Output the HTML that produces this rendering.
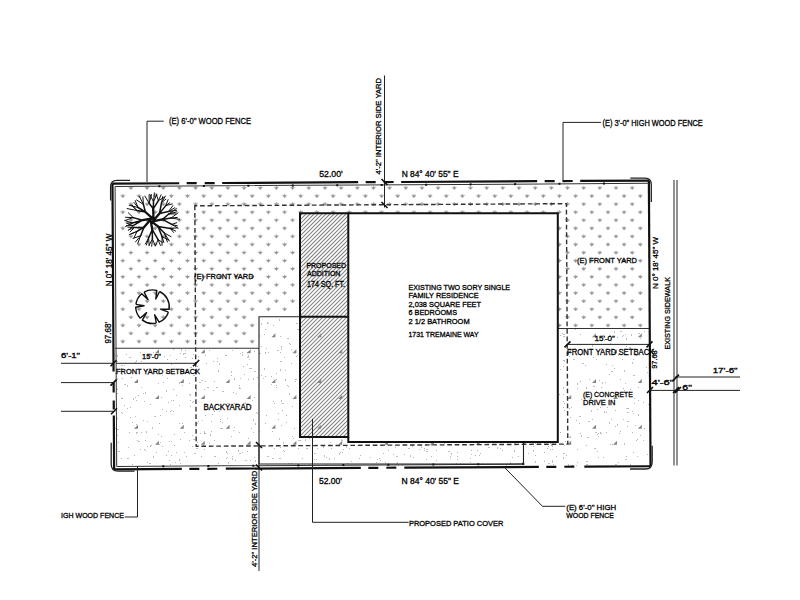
<!DOCTYPE html><html><head><meta charset="utf-8"><style>
html,body{margin:0;padding:0;background:#fff;width:800px;height:600px;overflow:hidden}
svg{display:block}
text{font-family:"Liberation Sans",sans-serif;fill:#000;stroke:#000;stroke-width:0.3px}
</style></head><body>
<svg width="800" height="600" viewBox="0 0 800 600">
<defs><clipPath id="ca"><rect x="300" y="213" width="48" height="224"/></clipPath></defs>
<rect width="800" height="600" fill="#fff"/>
<path d="M120.6 195.3h4.4l-2.2 2.6zM128.7 187.2h4.4l-2.2 2.6zM136.8 195.3h4.4l-2.2 2.6zM144.9 187.2h4.4l-2.2 2.6zM153.0 195.3h4.4l-2.2 2.6zM161.1 187.2h4.4l-2.2 2.6zM169.2 195.3h4.4l-2.2 2.6zM177.2 187.2h4.4l-2.2 2.6zM185.3 195.3h4.4l-2.2 2.6zM193.4 187.2h4.4l-2.2 2.6zM201.5 195.3h4.4l-2.2 2.6zM209.6 187.2h4.4l-2.2 2.6zM217.7 195.3h4.4l-2.2 2.6zM225.7 187.2h4.4l-2.2 2.6zM233.8 195.3h4.4l-2.2 2.6zM241.9 187.2h4.4l-2.2 2.6zM250.0 195.3h4.4l-2.2 2.6zM258.1 187.2h4.4l-2.2 2.6zM266.2 195.3h4.4l-2.2 2.6zM274.2 187.2h4.4l-2.2 2.6zM282.4 195.3h4.4l-2.2 2.6zM290.4 187.2h4.4l-2.2 2.6zM298.5 195.3h4.4l-2.2 2.6zM306.6 187.2h4.4l-2.2 2.6zM314.7 195.3h4.4l-2.2 2.6zM322.8 187.2h4.4l-2.2 2.6zM330.9 195.3h4.4l-2.2 2.6zM338.9 187.2h4.4l-2.2 2.6zM347.0 195.3h4.4l-2.2 2.6zM355.1 187.2h4.4l-2.2 2.6zM363.2 195.3h4.4l-2.2 2.6zM371.3 187.2h4.4l-2.2 2.6zM379.4 195.3h4.4l-2.2 2.6zM387.4 187.2h4.4l-2.2 2.6zM395.5 195.3h4.4l-2.2 2.6zM403.6 187.2h4.4l-2.2 2.6zM411.7 195.3h4.4l-2.2 2.6zM419.8 187.2h4.4l-2.2 2.6zM427.9 195.3h4.4l-2.2 2.6zM435.9 187.2h4.4l-2.2 2.6zM444.1 195.3h4.4l-2.2 2.6zM452.1 187.2h4.4l-2.2 2.6zM460.2 195.3h4.4l-2.2 2.6zM468.3 187.2h4.4l-2.2 2.6zM476.4 195.3h4.4l-2.2 2.6zM484.5 187.2h4.4l-2.2 2.6zM492.6 195.3h4.4l-2.2 2.6zM500.6 187.2h4.4l-2.2 2.6zM508.7 195.3h4.4l-2.2 2.6zM516.8 187.2h4.4l-2.2 2.6zM524.9 195.3h4.4l-2.2 2.6zM533.0 187.2h4.4l-2.2 2.6zM541.1 195.3h4.4l-2.2 2.6zM549.1 187.2h4.4l-2.2 2.6zM557.2 195.3h4.4l-2.2 2.6zM565.3 187.2h4.4l-2.2 2.6zM573.4 195.3h4.4l-2.2 2.6zM581.5 187.2h4.4l-2.2 2.6zM589.6 195.3h4.4l-2.2 2.6zM597.6 187.2h4.4l-2.2 2.6zM605.8 195.3h4.4l-2.2 2.6zM613.8 187.2h4.4l-2.2 2.6zM621.9 195.3h4.4l-2.2 2.6zM630.0 187.2h4.4l-2.2 2.6zM638.1 195.3h4.4l-2.2 2.6zM120.6 211.5h4.4l-2.2 2.6zM128.7 203.4h4.4l-2.2 2.6zM136.8 211.5h4.4l-2.2 2.6zM144.9 203.4h4.4l-2.2 2.6zM153.0 211.5h4.4l-2.2 2.6zM161.1 203.4h4.4l-2.2 2.6zM169.2 211.5h4.4l-2.2 2.6zM177.2 203.4h4.4l-2.2 2.6zM185.3 211.5h4.4l-2.2 2.6zM193.4 203.4h4.4l-2.2 2.6zM201.5 211.5h4.4l-2.2 2.6zM209.6 203.4h4.4l-2.2 2.6zM217.7 211.5h4.4l-2.2 2.6zM225.7 203.4h4.4l-2.2 2.6zM233.8 211.5h4.4l-2.2 2.6zM241.9 203.4h4.4l-2.2 2.6zM250.0 211.5h4.4l-2.2 2.6zM258.1 203.4h4.4l-2.2 2.6zM266.2 211.5h4.4l-2.2 2.6zM274.2 203.4h4.4l-2.2 2.6zM282.4 211.5h4.4l-2.2 2.6zM290.4 203.4h4.4l-2.2 2.6zM298.5 211.5h4.4l-2.2 2.6zM306.6 203.4h4.4l-2.2 2.6zM314.7 211.5h4.4l-2.2 2.6zM322.8 203.4h4.4l-2.2 2.6zM330.9 211.5h4.4l-2.2 2.6zM338.9 203.4h4.4l-2.2 2.6zM347.0 211.5h4.4l-2.2 2.6zM355.1 203.4h4.4l-2.2 2.6zM363.2 211.5h4.4l-2.2 2.6zM371.3 203.4h4.4l-2.2 2.6zM379.4 211.5h4.4l-2.2 2.6zM387.4 203.4h4.4l-2.2 2.6zM395.5 211.5h4.4l-2.2 2.6zM403.6 203.4h4.4l-2.2 2.6zM411.7 211.5h4.4l-2.2 2.6zM419.8 203.4h4.4l-2.2 2.6zM427.9 211.5h4.4l-2.2 2.6zM435.9 203.4h4.4l-2.2 2.6zM444.1 211.5h4.4l-2.2 2.6zM452.1 203.4h4.4l-2.2 2.6zM460.2 211.5h4.4l-2.2 2.6zM468.3 203.4h4.4l-2.2 2.6zM476.4 211.5h4.4l-2.2 2.6zM484.5 203.4h4.4l-2.2 2.6zM492.6 211.5h4.4l-2.2 2.6zM500.6 203.4h4.4l-2.2 2.6zM508.7 211.5h4.4l-2.2 2.6zM516.8 203.4h4.4l-2.2 2.6zM524.9 211.5h4.4l-2.2 2.6zM533.0 203.4h4.4l-2.2 2.6zM541.1 211.5h4.4l-2.2 2.6zM549.1 203.4h4.4l-2.2 2.6zM557.2 211.5h4.4l-2.2 2.6zM565.3 203.4h4.4l-2.2 2.6zM573.4 211.5h4.4l-2.2 2.6zM581.5 203.4h4.4l-2.2 2.6zM589.6 211.5h4.4l-2.2 2.6zM597.6 203.4h4.4l-2.2 2.6zM605.8 211.5h4.4l-2.2 2.6zM613.8 203.4h4.4l-2.2 2.6zM621.9 211.5h4.4l-2.2 2.6zM630.0 203.4h4.4l-2.2 2.6zM638.1 211.5h4.4l-2.2 2.6zM120.6 227.6h4.4l-2.2 2.6zM128.7 219.5h4.4l-2.2 2.6zM136.8 227.6h4.4l-2.2 2.6zM144.9 219.5h4.4l-2.2 2.6zM153.0 227.6h4.4l-2.2 2.6zM161.1 219.5h4.4l-2.2 2.6zM169.2 227.6h4.4l-2.2 2.6zM177.2 219.5h4.4l-2.2 2.6zM185.3 227.6h4.4l-2.2 2.6zM193.4 219.5h4.4l-2.2 2.6zM201.5 227.6h4.4l-2.2 2.6zM209.6 219.5h4.4l-2.2 2.6zM217.7 227.6h4.4l-2.2 2.6zM225.7 219.5h4.4l-2.2 2.6zM233.8 227.6h4.4l-2.2 2.6zM241.9 219.5h4.4l-2.2 2.6zM250.0 227.6h4.4l-2.2 2.6zM258.1 219.5h4.4l-2.2 2.6zM266.2 227.6h4.4l-2.2 2.6zM274.2 219.5h4.4l-2.2 2.6zM282.4 227.6h4.4l-2.2 2.6zM290.4 219.5h4.4l-2.2 2.6zM557.2 227.6h4.4l-2.2 2.6zM565.3 219.5h4.4l-2.2 2.6zM573.4 227.6h4.4l-2.2 2.6zM581.5 219.5h4.4l-2.2 2.6zM589.6 227.6h4.4l-2.2 2.6zM597.6 219.5h4.4l-2.2 2.6zM605.8 227.6h4.4l-2.2 2.6zM613.8 219.5h4.4l-2.2 2.6zM621.9 227.6h4.4l-2.2 2.6zM630.0 219.5h4.4l-2.2 2.6zM638.1 227.6h4.4l-2.2 2.6zM120.6 243.8h4.4l-2.2 2.6zM128.7 235.7h4.4l-2.2 2.6zM136.8 243.8h4.4l-2.2 2.6zM144.9 235.7h4.4l-2.2 2.6zM153.0 243.8h4.4l-2.2 2.6zM161.1 235.7h4.4l-2.2 2.6zM169.2 243.8h4.4l-2.2 2.6zM177.2 235.7h4.4l-2.2 2.6zM185.3 243.8h4.4l-2.2 2.6zM193.4 235.7h4.4l-2.2 2.6zM201.5 243.8h4.4l-2.2 2.6zM209.6 235.7h4.4l-2.2 2.6zM217.7 243.8h4.4l-2.2 2.6zM225.7 235.7h4.4l-2.2 2.6zM233.8 243.8h4.4l-2.2 2.6zM241.9 235.7h4.4l-2.2 2.6zM250.0 243.8h4.4l-2.2 2.6zM258.1 235.7h4.4l-2.2 2.6zM266.2 243.8h4.4l-2.2 2.6zM274.2 235.7h4.4l-2.2 2.6zM282.4 243.8h4.4l-2.2 2.6zM290.4 235.7h4.4l-2.2 2.6zM557.2 243.8h4.4l-2.2 2.6zM565.3 235.7h4.4l-2.2 2.6zM573.4 243.8h4.4l-2.2 2.6zM581.5 235.7h4.4l-2.2 2.6zM589.6 243.8h4.4l-2.2 2.6zM597.6 235.7h4.4l-2.2 2.6zM605.8 243.8h4.4l-2.2 2.6zM613.8 235.7h4.4l-2.2 2.6zM621.9 243.8h4.4l-2.2 2.6zM630.0 235.7h4.4l-2.2 2.6zM638.1 243.8h4.4l-2.2 2.6zM120.6 260.0h4.4l-2.2 2.6zM128.7 251.9h4.4l-2.2 2.6zM136.8 260.0h4.4l-2.2 2.6zM144.9 251.9h4.4l-2.2 2.6zM153.0 260.0h4.4l-2.2 2.6zM161.1 251.9h4.4l-2.2 2.6zM169.2 260.0h4.4l-2.2 2.6zM177.2 251.9h4.4l-2.2 2.6zM185.3 260.0h4.4l-2.2 2.6zM193.4 251.9h4.4l-2.2 2.6zM201.5 260.0h4.4l-2.2 2.6zM209.6 251.9h4.4l-2.2 2.6zM217.7 260.0h4.4l-2.2 2.6zM225.7 251.9h4.4l-2.2 2.6zM233.8 260.0h4.4l-2.2 2.6zM241.9 251.9h4.4l-2.2 2.6zM250.0 260.0h4.4l-2.2 2.6zM258.1 251.9h4.4l-2.2 2.6zM266.2 260.0h4.4l-2.2 2.6zM274.2 251.9h4.4l-2.2 2.6zM282.4 260.0h4.4l-2.2 2.6zM290.4 251.9h4.4l-2.2 2.6zM557.2 260.0h4.4l-2.2 2.6zM565.3 251.9h4.4l-2.2 2.6zM573.4 260.0h4.4l-2.2 2.6zM581.5 251.9h4.4l-2.2 2.6zM589.6 260.0h4.4l-2.2 2.6zM597.6 251.9h4.4l-2.2 2.6zM605.8 260.0h4.4l-2.2 2.6zM613.8 251.9h4.4l-2.2 2.6zM621.9 260.0h4.4l-2.2 2.6zM630.0 251.9h4.4l-2.2 2.6zM638.1 260.0h4.4l-2.2 2.6zM120.6 276.1h4.4l-2.2 2.6zM128.7 268.1h4.4l-2.2 2.6zM136.8 276.1h4.4l-2.2 2.6zM144.9 268.1h4.4l-2.2 2.6zM153.0 276.1h4.4l-2.2 2.6zM161.1 268.1h4.4l-2.2 2.6zM169.2 276.1h4.4l-2.2 2.6zM177.2 268.1h4.4l-2.2 2.6zM185.3 276.1h4.4l-2.2 2.6zM193.4 268.1h4.4l-2.2 2.6zM201.5 276.1h4.4l-2.2 2.6zM209.6 268.1h4.4l-2.2 2.6zM217.7 276.1h4.4l-2.2 2.6zM225.7 268.1h4.4l-2.2 2.6zM233.8 276.1h4.4l-2.2 2.6zM241.9 268.1h4.4l-2.2 2.6zM250.0 276.1h4.4l-2.2 2.6zM258.1 268.1h4.4l-2.2 2.6zM266.2 276.1h4.4l-2.2 2.6zM274.2 268.1h4.4l-2.2 2.6zM282.4 276.1h4.4l-2.2 2.6zM290.4 268.1h4.4l-2.2 2.6zM557.2 276.1h4.4l-2.2 2.6zM565.3 268.1h4.4l-2.2 2.6zM573.4 276.1h4.4l-2.2 2.6zM581.5 268.1h4.4l-2.2 2.6zM589.6 276.1h4.4l-2.2 2.6zM597.6 268.1h4.4l-2.2 2.6zM605.8 276.1h4.4l-2.2 2.6zM613.8 268.1h4.4l-2.2 2.6zM621.9 276.1h4.4l-2.2 2.6zM630.0 268.1h4.4l-2.2 2.6zM638.1 276.1h4.4l-2.2 2.6zM120.6 292.3h4.4l-2.2 2.6zM128.7 284.2h4.4l-2.2 2.6zM136.8 292.3h4.4l-2.2 2.6zM144.9 284.2h4.4l-2.2 2.6zM153.0 292.3h4.4l-2.2 2.6zM161.1 284.2h4.4l-2.2 2.6zM169.2 292.3h4.4l-2.2 2.6zM177.2 284.2h4.4l-2.2 2.6zM185.3 292.3h4.4l-2.2 2.6zM193.4 284.2h4.4l-2.2 2.6zM201.5 292.3h4.4l-2.2 2.6zM209.6 284.2h4.4l-2.2 2.6zM217.7 292.3h4.4l-2.2 2.6zM225.7 284.2h4.4l-2.2 2.6zM233.8 292.3h4.4l-2.2 2.6zM241.9 284.2h4.4l-2.2 2.6zM250.0 292.3h4.4l-2.2 2.6zM258.1 284.2h4.4l-2.2 2.6zM266.2 292.3h4.4l-2.2 2.6zM274.2 284.2h4.4l-2.2 2.6zM282.4 292.3h4.4l-2.2 2.6zM290.4 284.2h4.4l-2.2 2.6zM557.2 292.3h4.4l-2.2 2.6zM565.3 284.2h4.4l-2.2 2.6zM573.4 292.3h4.4l-2.2 2.6zM581.5 284.2h4.4l-2.2 2.6zM589.6 292.3h4.4l-2.2 2.6zM597.6 284.2h4.4l-2.2 2.6zM605.8 292.3h4.4l-2.2 2.6zM613.8 284.2h4.4l-2.2 2.6zM621.9 292.3h4.4l-2.2 2.6zM630.0 284.2h4.4l-2.2 2.6zM638.1 292.3h4.4l-2.2 2.6zM120.6 308.5h4.4l-2.2 2.6zM128.7 300.4h4.4l-2.2 2.6zM136.8 308.5h4.4l-2.2 2.6zM144.9 300.4h4.4l-2.2 2.6zM153.0 308.5h4.4l-2.2 2.6zM161.1 300.4h4.4l-2.2 2.6zM169.2 308.5h4.4l-2.2 2.6zM177.2 300.4h4.4l-2.2 2.6zM185.3 308.5h4.4l-2.2 2.6zM193.4 300.4h4.4l-2.2 2.6zM201.5 308.5h4.4l-2.2 2.6zM209.6 300.4h4.4l-2.2 2.6zM217.7 308.5h4.4l-2.2 2.6zM225.7 300.4h4.4l-2.2 2.6zM233.8 308.5h4.4l-2.2 2.6zM241.9 300.4h4.4l-2.2 2.6zM250.0 308.5h4.4l-2.2 2.6zM258.1 300.4h4.4l-2.2 2.6zM266.2 308.5h4.4l-2.2 2.6zM274.2 300.4h4.4l-2.2 2.6zM282.4 308.5h4.4l-2.2 2.6zM290.4 300.4h4.4l-2.2 2.6zM557.2 308.5h4.4l-2.2 2.6zM565.3 300.4h4.4l-2.2 2.6zM573.4 308.5h4.4l-2.2 2.6zM581.5 300.4h4.4l-2.2 2.6zM589.6 308.5h4.4l-2.2 2.6zM597.6 300.4h4.4l-2.2 2.6zM605.8 308.5h4.4l-2.2 2.6zM613.8 300.4h4.4l-2.2 2.6zM621.9 308.5h4.4l-2.2 2.6zM630.0 300.4h4.4l-2.2 2.6zM638.1 308.5h4.4l-2.2 2.6zM120.6 324.7h4.4l-2.2 2.6zM128.7 316.6h4.4l-2.2 2.6zM136.8 324.7h4.4l-2.2 2.6zM144.9 316.6h4.4l-2.2 2.6zM153.0 324.7h4.4l-2.2 2.6zM161.1 316.6h4.4l-2.2 2.6zM169.2 324.7h4.4l-2.2 2.6zM177.2 316.6h4.4l-2.2 2.6zM185.3 324.7h4.4l-2.2 2.6zM193.4 316.6h4.4l-2.2 2.6zM201.5 324.7h4.4l-2.2 2.6zM209.6 316.6h4.4l-2.2 2.6zM217.7 324.7h4.4l-2.2 2.6zM225.7 316.6h4.4l-2.2 2.6zM233.8 324.7h4.4l-2.2 2.6zM241.9 316.6h4.4l-2.2 2.6zM250.0 324.7h4.4l-2.2 2.6zM557.2 324.7h4.4l-2.2 2.6zM565.3 316.6h4.4l-2.2 2.6zM573.4 324.7h4.4l-2.2 2.6zM581.5 316.6h4.4l-2.2 2.6zM589.6 324.7h4.4l-2.2 2.6zM597.6 316.6h4.4l-2.2 2.6zM605.8 324.7h4.4l-2.2 2.6zM613.8 316.6h4.4l-2.2 2.6zM621.9 324.7h4.4l-2.2 2.6zM630.0 316.6h4.4l-2.2 2.6zM638.1 324.7h4.4l-2.2 2.6zM120.6 340.8h4.4l-2.2 2.6zM128.7 332.7h4.4l-2.2 2.6zM136.8 340.8h4.4l-2.2 2.6zM144.9 332.7h4.4l-2.2 2.6zM153.0 340.8h4.4l-2.2 2.6zM161.1 332.7h4.4l-2.2 2.6zM169.2 340.8h4.4l-2.2 2.6zM177.2 332.7h4.4l-2.2 2.6zM185.3 340.8h4.4l-2.2 2.6zM193.4 332.7h4.4l-2.2 2.6zM201.5 340.8h4.4l-2.2 2.6zM209.6 332.7h4.4l-2.2 2.6zM217.7 340.8h4.4l-2.2 2.6zM225.7 332.7h4.4l-2.2 2.6zM233.8 340.8h4.4l-2.2 2.6zM241.9 332.7h4.4l-2.2 2.6zM250.0 340.8h4.4l-2.2 2.6z" fill="#8c8c8c" stroke="#b0b0b0" stroke-width="0.5"/>
<path d="M122.8 193.9v2.4M130.9 185.8v2.4M139.0 193.9v2.4M147.1 185.8v2.4M155.2 193.9v2.4M163.3 185.8v2.4M171.4 193.9v2.4M179.4 185.8v2.4M187.5 193.9v2.4M195.6 185.8v2.4M203.7 193.9v2.4M211.8 185.8v2.4M219.9 193.9v2.4M227.9 185.8v2.4M236.0 193.9v2.4M244.1 185.8v2.4M252.2 193.9v2.4M260.3 185.8v2.4M268.4 193.9v2.4M276.4 185.8v2.4M284.6 193.9v2.4M292.6 185.8v2.4M300.7 193.9v2.4M308.8 185.8v2.4M316.9 193.9v2.4M325.0 185.8v2.4M333.1 193.9v2.4M341.1 185.8v2.4M349.2 193.9v2.4M357.3 185.8v2.4M365.4 193.9v2.4M373.5 185.8v2.4M381.6 193.9v2.4M389.6 185.8v2.4M397.7 193.9v2.4M405.8 185.8v2.4M413.9 193.9v2.4M422.0 185.8v2.4M430.1 193.9v2.4M438.1 185.8v2.4M446.2 193.9v2.4M454.3 185.8v2.4M462.4 193.9v2.4M470.5 185.8v2.4M478.6 193.9v2.4M486.7 185.8v2.4M494.8 193.9v2.4M502.8 185.8v2.4M510.9 193.9v2.4M519.0 185.8v2.4M527.1 193.9v2.4M535.2 185.8v2.4M543.3 193.9v2.4M551.3 185.8v2.4M559.4 193.9v2.4M567.5 185.8v2.4M575.6 193.9v2.4M583.7 185.8v2.4M591.8 193.9v2.4M599.9 185.8v2.4M608.0 193.9v2.4M616.0 185.8v2.4M624.1 193.9v2.4M632.2 185.8v2.4M640.3 193.9v2.4M122.8 210.1v2.4M130.9 202.0v2.4M139.0 210.1v2.4M147.1 202.0v2.4M155.2 210.1v2.4M163.3 202.0v2.4M171.4 210.1v2.4M179.4 202.0v2.4M187.5 210.1v2.4M195.6 202.0v2.4M203.7 210.1v2.4M211.8 202.0v2.4M219.9 210.1v2.4M227.9 202.0v2.4M236.0 210.1v2.4M244.1 202.0v2.4M252.2 210.1v2.4M260.3 202.0v2.4M268.4 210.1v2.4M276.4 202.0v2.4M284.6 210.1v2.4M292.6 202.0v2.4M300.7 210.1v2.4M308.8 202.0v2.4M316.9 210.1v2.4M325.0 202.0v2.4M333.1 210.1v2.4M341.1 202.0v2.4M349.2 210.1v2.4M357.3 202.0v2.4M365.4 210.1v2.4M373.5 202.0v2.4M381.6 210.1v2.4M389.6 202.0v2.4M397.7 210.1v2.4M405.8 202.0v2.4M413.9 210.1v2.4M422.0 202.0v2.4M430.1 210.1v2.4M438.1 202.0v2.4M446.2 210.1v2.4M454.3 202.0v2.4M462.4 210.1v2.4M470.5 202.0v2.4M478.6 210.1v2.4M486.7 202.0v2.4M494.8 210.1v2.4M502.8 202.0v2.4M510.9 210.1v2.4M519.0 202.0v2.4M527.1 210.1v2.4M535.2 202.0v2.4M543.3 210.1v2.4M551.3 202.0v2.4M559.4 210.1v2.4M567.5 202.0v2.4M575.6 210.1v2.4M583.7 202.0v2.4M591.8 210.1v2.4M599.9 202.0v2.4M608.0 210.1v2.4M616.0 202.0v2.4M624.1 210.1v2.4M632.2 202.0v2.4M640.3 210.1v2.4M122.8 226.2v2.4M130.9 218.1v2.4M139.0 226.2v2.4M147.1 218.1v2.4M155.2 226.2v2.4M163.3 218.1v2.4M171.4 226.2v2.4M179.4 218.1v2.4M187.5 226.2v2.4M195.6 218.1v2.4M203.7 226.2v2.4M211.8 218.1v2.4M219.9 226.2v2.4M227.9 218.1v2.4M236.0 226.2v2.4M244.1 218.1v2.4M252.2 226.2v2.4M260.3 218.1v2.4M268.4 226.2v2.4M276.4 218.1v2.4M284.6 226.2v2.4M292.6 218.1v2.4M559.4 226.2v2.4M567.5 218.1v2.4M575.6 226.2v2.4M583.7 218.1v2.4M591.8 226.2v2.4M599.9 218.1v2.4M608.0 226.2v2.4M616.0 218.1v2.4M624.1 226.2v2.4M632.2 218.1v2.4M640.3 226.2v2.4M122.8 242.4v2.4M130.9 234.3v2.4M139.0 242.4v2.4M147.1 234.3v2.4M155.2 242.4v2.4M163.3 234.3v2.4M171.4 242.4v2.4M179.4 234.3v2.4M187.5 242.4v2.4M195.6 234.3v2.4M203.7 242.4v2.4M211.8 234.3v2.4M219.9 242.4v2.4M227.9 234.3v2.4M236.0 242.4v2.4M244.1 234.3v2.4M252.2 242.4v2.4M260.3 234.3v2.4M268.4 242.4v2.4M276.4 234.3v2.4M284.6 242.4v2.4M292.6 234.3v2.4M559.4 242.4v2.4M567.5 234.3v2.4M575.6 242.4v2.4M583.7 234.3v2.4M591.8 242.4v2.4M599.9 234.3v2.4M608.0 242.4v2.4M616.0 234.3v2.4M624.1 242.4v2.4M632.2 234.3v2.4M640.3 242.4v2.4M122.8 258.6v2.4M130.9 250.5v2.4M139.0 258.6v2.4M147.1 250.5v2.4M155.2 258.6v2.4M163.3 250.5v2.4M171.4 258.6v2.4M179.4 250.5v2.4M187.5 258.6v2.4M195.6 250.5v2.4M203.7 258.6v2.4M211.8 250.5v2.4M219.9 258.6v2.4M227.9 250.5v2.4M236.0 258.6v2.4M244.1 250.5v2.4M252.2 258.6v2.4M260.3 250.5v2.4M268.4 258.6v2.4M276.4 250.5v2.4M284.6 258.6v2.4M292.6 250.5v2.4M559.4 258.6v2.4M567.5 250.5v2.4M575.6 258.6v2.4M583.7 250.5v2.4M591.8 258.6v2.4M599.9 250.5v2.4M608.0 258.6v2.4M616.0 250.5v2.4M624.1 258.6v2.4M632.2 250.5v2.4M640.3 258.6v2.4M122.8 274.8v2.4M130.9 266.7v2.4M139.0 274.8v2.4M147.1 266.7v2.4M155.2 274.8v2.4M163.3 266.7v2.4M171.4 274.8v2.4M179.4 266.7v2.4M187.5 274.8v2.4M195.6 266.7v2.4M203.7 274.8v2.4M211.8 266.7v2.4M219.9 274.8v2.4M227.9 266.7v2.4M236.0 274.8v2.4M244.1 266.7v2.4M252.2 274.8v2.4M260.3 266.7v2.4M268.4 274.8v2.4M276.4 266.7v2.4M284.6 274.8v2.4M292.6 266.7v2.4M559.4 274.8v2.4M567.5 266.7v2.4M575.6 274.8v2.4M583.7 266.7v2.4M591.8 274.8v2.4M599.9 266.7v2.4M608.0 274.8v2.4M616.0 266.7v2.4M624.1 274.8v2.4M632.2 266.7v2.4M640.3 274.8v2.4M122.8 290.9v2.4M130.9 282.8v2.4M139.0 290.9v2.4M147.1 282.8v2.4M155.2 290.9v2.4M163.3 282.8v2.4M171.4 290.9v2.4M179.4 282.8v2.4M187.5 290.9v2.4M195.6 282.8v2.4M203.7 290.9v2.4M211.8 282.8v2.4M219.9 290.9v2.4M227.9 282.8v2.4M236.0 290.9v2.4M244.1 282.8v2.4M252.2 290.9v2.4M260.3 282.8v2.4M268.4 290.9v2.4M276.4 282.8v2.4M284.6 290.9v2.4M292.6 282.8v2.4M559.4 290.9v2.4M567.5 282.8v2.4M575.6 290.9v2.4M583.7 282.8v2.4M591.8 290.9v2.4M599.9 282.8v2.4M608.0 290.9v2.4M616.0 282.8v2.4M624.1 290.9v2.4M632.2 282.8v2.4M640.3 290.9v2.4M122.8 307.1v2.4M130.9 299.0v2.4M139.0 307.1v2.4M147.1 299.0v2.4M155.2 307.1v2.4M163.3 299.0v2.4M171.4 307.1v2.4M179.4 299.0v2.4M187.5 307.1v2.4M195.6 299.0v2.4M203.7 307.1v2.4M211.8 299.0v2.4M219.9 307.1v2.4M227.9 299.0v2.4M236.0 307.1v2.4M244.1 299.0v2.4M252.2 307.1v2.4M260.3 299.0v2.4M268.4 307.1v2.4M276.4 299.0v2.4M284.6 307.1v2.4M292.6 299.0v2.4M559.4 307.1v2.4M567.5 299.0v2.4M575.6 307.1v2.4M583.7 299.0v2.4M591.8 307.1v2.4M599.9 299.0v2.4M608.0 307.1v2.4M616.0 299.0v2.4M624.1 307.1v2.4M632.2 299.0v2.4M640.3 307.1v2.4M122.8 323.3v2.4M130.9 315.2v2.4M139.0 323.3v2.4M147.1 315.2v2.4M155.2 323.3v2.4M163.3 315.2v2.4M171.4 323.3v2.4M179.4 315.2v2.4M187.5 323.3v2.4M195.6 315.2v2.4M203.7 323.3v2.4M211.8 315.2v2.4M219.9 323.3v2.4M227.9 315.2v2.4M236.0 323.3v2.4M244.1 315.2v2.4M252.2 323.3v2.4M559.4 323.3v2.4M567.5 315.2v2.4M575.6 323.3v2.4M583.7 315.2v2.4M591.8 323.3v2.4M599.9 315.2v2.4M608.0 323.3v2.4M616.0 315.2v2.4M624.1 323.3v2.4M632.2 315.2v2.4M640.3 323.3v2.4M122.8 339.4v2.4M130.9 331.3v2.4M139.0 339.4v2.4M147.1 331.3v2.4M155.2 339.4v2.4M163.3 331.3v2.4M171.4 339.4v2.4M179.4 331.3v2.4M187.5 339.4v2.4M195.6 331.3v2.4M203.7 339.4v2.4M211.8 331.3v2.4M219.9 339.4v2.4M227.9 331.3v2.4M236.0 339.4v2.4M244.1 331.3v2.4M252.2 339.4v2.4" stroke="#a0a0a0" stroke-width="0.8"/>
<path d="M287 338h2v1h-2zM145 392h1v2h-1zM135 381h1v1h-1zM341 440h2v1h-2zM181 349h1v2h-1zM450 458h1v1h-1zM573 359h2v1h-2zM279 438h1v2h-1zM211 403h1v1h-1zM282 403h2v1h-2zM245 402h1v2h-1zM395 447h1v1h-1zM638 333h2v1h-2zM196 389h1v2h-1zM135 416h1v1h-1zM582 363h2v1h-2zM563 457h1v2h-1zM147 421h1v1h-1zM460 464h2v1h-2zM127 385h1v2h-1zM146 431h1v1h-1zM184 353h2v1h-2zM323 446h1v2h-1zM158 383h1v1h-1zM408 448h2v1h-2zM552 445h1v2h-1zM263 378h1v1h-1zM306 448h2v1h-2zM626 338h1v2h-1zM209 350h1v1h-1zM239 388h2v1h-2zM117 378h1v2h-1zM623 419h1v1h-1zM595 432h2v1h-2zM581 435h1v2h-1zM170 411h1v1h-1zM296 323h2v1h-2zM169 370h1v2h-1zM128 447h1v1h-1zM249 368h2v1h-2zM568 464h1v2h-1zM297 355h1v1h-1zM127 458h2v1h-2zM397 462h1v2h-1zM576 420h1v1h-1zM254 371h2v1h-2zM204 431h1v2h-1zM291 349h1v1h-1zM548 463h2v1h-2zM570 436h1v2h-1zM236 393h1v1h-1zM129 357h2v1h-2zM253 419h1v2h-1zM625 383h1v1h-1zM615 464h2v1h-2zM624 370h1v2h-1zM232 350h1v1h-1zM448 451h2v1h-2zM563 387h1v2h-1zM160 415h1v1h-1zM600 433h2v1h-2zM210 434h1v2h-1zM292 436h1v1h-1zM633 375h2v1h-2zM329 458h1v2h-1zM598 436h1v1h-1zM193 439h2v1h-2zM638 414h1v2h-1zM633 413h1v1h-1zM396 456h2v1h-2zM346 446h1v2h-1zM249 359h1v1h-1zM243 403h2v1h-2zM253 378h1v2h-1zM184 452h1v1h-1zM426 451h2v1h-2zM339 453h1v2h-1zM117 435h1v1h-1zM207 387h2v1h-2zM289 393h1v2h-1zM171 400h1v1h-1zM247 357h2v1h-2zM602 382h1v2h-1zM370 457h1v1h-1zM488 447h2v1h-2zM618 354h1v2h-1zM413 457h1v1h-1zM563 336h2v1h-2zM179 382h1v2h-1zM153 352h1v1h-1zM154 416h2v1h-2zM533 450h1v2h-1zM197 423h1v1h-1zM586 461h2v1h-2zM232 458h1v2h-1zM643 440h1v1h-1zM201 380h2v1h-2zM219 363h1v2h-1zM124 365h1v1h-1zM149 463h2v1h-2zM535 461h1v2h-1zM170 355h1v1h-1zM136 432h2v1h-2zM259 335h1v2h-1zM340 452h1v1h-1zM194 453h2v1h-2zM153 456h1v2h-1zM159 444h1v1h-1zM150 445h2v1h-2zM410 455h1v2h-1zM281 361h1v1h-1zM216 387h2v1h-2zM614 331h1v2h-1zM482 463h1v1h-1zM298 440h2v1h-2zM152 427h1v2h-1zM160 442h1v1h-1zM579 416h2v1h-2zM265 352h1v2h-1zM271 384h1v1h-1zM199 382h2v1h-2zM255 460h1v2h-1zM634 398h1v1h-1zM245 460h2v1h-2zM280 369h1v2h-1zM115 373h1v1h-1zM222 391h2v1h-2zM117 355h1v2h-1zM162 375h1v1h-1zM277 350h2v1h-2zM497 447h1v2h-1zM640 338h1v1h-1zM138 441h2v1h-2zM591 410h1v2h-1zM189 394h1v1h-1zM426 449h2v1h-2zM186 370h1v2h-1zM171 441h1v1h-1zM154 355h2v1h-2zM510 462h1v2h-1zM193 354h1v1h-1zM147 356h2v1h-2zM592 345h1v2h-1zM637 456h1v1h-1zM124 384h2v1h-2zM552 461h1v2h-1zM227 457h1v1h-1zM227 403h2v1h-2zM190 394h1v2h-1zM623 335h1v1h-1zM588 421h2v1h-2zM238 450h1v2h-1zM116 389h1v1h-1zM190 367h2v1h-2zM283 442h1v2h-1zM115 428h1v1h-1zM563 334h2v1h-2zM609 422h1v2h-1zM596 359h1v1h-1zM648 404h2v1h-2zM261 323h1v2h-1zM169 441h1v1h-1zM267 456h2v1h-2zM248 355h1v2h-1zM314 459h1v1h-1zM587 437h2v1h-2zM451 453h1v2h-1zM617 398h1v1h-1zM267 323h2v1h-2zM609 335h1v2h-1zM274 426h1v1h-1zM636 355h2v1h-2zM226 451h1v2h-1zM598 465h1v1h-1zM297 329h2v1h-2zM242 354h1v2h-1zM419 449h1v1h-1zM148 357h2v1h-2zM631 334h1v2h-1zM575 348h1v1h-1zM259 353h2v1h-2zM624 443h1v2h-1zM132 422h1v1h-1zM593 386h2v1h-2zM324 455h1v2h-1zM555 444h1v1h-1zM634 353h2v1h-2zM617 424h1v2h-1zM136 433h1v1h-1zM239 453h2v1h-2zM183 353h1v2h-1zM276 385h1v1h-1zM627 412h2v1h-2zM586 387h1v2h-1zM240 353h1v1h-1zM627 421h2v1h-2zM279 319h1v2h-1zM471 454h1v1h-1zM295 379h2v1h-2zM632 362h1v2h-1zM233 430h1v1h-1zM272 458h2v1h-2zM234 378h1v2h-1zM470 458h1v1h-1zM193 375h2v1h-2zM228 462h1v2h-1zM147 374h1v1h-1zM594 448h2v1h-2zM506 465h1v2h-1zM612 365h1v1h-1zM214 456h2v1h-2zM264 368h1v2h-1zM625 334h1v1h-1zM629 347h2v1h-2zM305 439h1v2h-1zM141 387h1v1h-1zM314 453h2v1h-2zM218 370h1v2h-1zM334 437h1v1h-1zM606 354h2v1h-2zM514 450h1v2h-1zM296 356h1v1h-1zM626 408h2v1h-2zM255 423h1v2h-1zM284 357h1v1h-1zM117 429h2v1h-2zM604 411h1v2h-1zM239 387h1v1h-1zM625 459h2v1h-2zM610 343h1v2h-1zM285 370h1v1h-1zM220 428h2v1h-2zM133 398h1v2h-1zM288 463h1v1h-1zM586 464h2v1h-2zM166 390h1v2h-1zM240 378h1v1h-1zM514 443h2v1h-2zM564 360h1v2h-1zM247 352h1v1h-1zM196 448h2v1h-2zM326 464h1v2h-1zM644 331h1v1h-1zM563 453h2v1h-2zM136 360h1v2h-1zM634 403h1v1h-1zM611 371h2v1h-2zM577 383h1v2h-1zM253 432h1v1h-1zM620 331h2v1h-2zM231 371h1v2h-1zM251 405h1v1h-1zM121 365h2v1h-2zM281 346h1v2h-1zM202 420h1v1h-1zM279 458h2v1h-2zM281 400h1v2h-1zM576 465h1v1h-1zM118 451h2v1h-2zM341 439h1v2h-1z" fill="#c0c0c0"/>
<path d="M331 448h1v1h-1zM122 398h1v1h-1zM457 452h1v1h-1zM162 409h1v1h-1zM192 358h1v1h-1zM393 454h1v1h-1zM173 389h1v1h-1zM544 461h1v1h-1zM618 462h1v1h-1zM609 374h1v1h-1zM597 409h1v1h-1zM330 442h1v1h-1zM231 375h1v1h-1zM180 353h1v1h-1zM502 450h1v1h-1zM136 400h1v1h-1zM562 333h1v1h-1zM127 408h1v1h-1zM183 380h1v1h-1zM163 382h1v1h-1zM622 336h1v1h-1zM572 465h1v1h-1zM218 463h1v1h-1zM377 459h1v1h-1zM604 340h1v1h-1zM535 455h1v1h-1zM149 368h1v1h-1zM593 357h1v1h-1zM383 453h1v1h-1zM226 355h1v1h-1zM201 456h1v1h-1zM477 450h1v1h-1zM205 433h1v1h-1zM176 395h1v1h-1zM581 399h1v1h-1zM424 448h1v1h-1zM170 464h1v1h-1zM643 402h1v1h-1zM456 463h1v1h-1zM388 450h1v1h-1zM185 350h1v1h-1zM116 369h1v1h-1zM171 369h1v1h-1zM234 403h1v1h-1zM186 456h1v1h-1zM166 411h1v1h-1zM580 433h1v1h-1zM121 412h1v1h-1zM615 426h1v1h-1zM247 451h1v1h-1zM138 395h1v1h-1zM146 432h1v1h-1zM121 398h1v1h-1zM617 337h1v1h-1zM221 407h1v1h-1zM280 361h1v1h-1zM140 449h1v1h-1zM118 442h1v1h-1zM294 428h1v1h-1zM486 442h1v1h-1zM256 412h1v1h-1zM630 348h1v1h-1zM254 351h1v1h-1zM512 457h1v1h-1zM585 365h1v1h-1zM242 452h1v1h-1zM470 462h1v1h-1zM487 444h1v1h-1zM228 409h1v1h-1zM156 452h1v1h-1zM171 455h1v1h-1zM299 337h1v1h-1zM150 404h1v1h-1zM309 438h1v1h-1zM552 449h1v1h-1zM150 446h1v1h-1zM603 457h1v1h-1zM567 437h1v1h-1zM285 379h1v1h-1zM126 354h1v1h-1zM265 423h1v1h-1zM629 391h1v1h-1zM569 408h1v1h-1zM131 377h1v1h-1zM575 329h1v1h-1zM522 462h1v1h-1zM117 389h1v1h-1zM213 390h1v1h-1zM300 440h1v1h-1zM254 457h1v1h-1zM266 348h1v1h-1zM173 411h1v1h-1zM158 434h1v1h-1zM590 328h1v1h-1zM225 355h1v1h-1zM596 391h1v1h-1zM317 448h1v1h-1zM239 385h1v1h-1zM197 442h1v1h-1zM205 381h1v1h-1zM182 385h1v1h-1zM587 351h1v1h-1zM217 361h1v1h-1zM490 442h1v1h-1zM247 364h1v1h-1zM290 344h1v1h-1zM635 425h1v1h-1zM169 460h1v1h-1zM169 373h1v1h-1zM640 435h1v1h-1zM219 411h1v1h-1zM190 406h1v1h-1zM599 380h1v1h-1zM500 448h1v1h-1zM570 417h1v1h-1zM282 410h1v1h-1zM167 378h1v1h-1zM475 455h1v1h-1zM212 414h1v1h-1zM376 462h1v1h-1zM135 397h1v1h-1zM200 433h1v1h-1zM617 393h1v1h-1zM168 402h1v1h-1zM334 458h1v1h-1zM227 418h1v1h-1zM180 463h1v1h-1zM261 375h1v1h-1zM122 378h1v1h-1zM234 427h1v1h-1zM616 395h1v1h-1zM231 436h1v1h-1zM184 432h1v1h-1zM235 460h1v1h-1zM560 369h1v1h-1zM569 356h1v1h-1zM116 424h1v1h-1zM265 352h1v1h-1zM276 387h1v1h-1zM610 444h1v1h-1zM145 440h1v1h-1zM598 433h1v1h-1zM189 440h1v1h-1zM121 458h1v1h-1zM239 432h1v1h-1zM597 434h1v1h-1zM204 449h1v1h-1zM471 450h1v1h-1zM220 419h1v1h-1zM349 448h1v1h-1zM403 445h1v1h-1zM118 442h1v1h-1zM470 442h1v1h-1zM130 407h1v1h-1zM479 455h1v1h-1zM291 463h1v1h-1zM295 445h1v1h-1zM227 381h1v1h-1zM385 462h1v1h-1zM291 363h1v1h-1zM274 403h1v1h-1zM136 424h1v1h-1zM587 397h1v1h-1zM141 361h1v1h-1zM607 407h1v1h-1zM600 407h1v1h-1zM528 453h1v1h-1zM276 379h1v1h-1zM285 380h1v1h-1zM457 456h1v1h-1zM144 401h1v1h-1zM605 382h1v1h-1zM122 374h1v1h-1zM431 456h1v1h-1zM638 387h1v1h-1zM117 418h1v1h-1zM179 460h1v1h-1zM162 446h1v1h-1zM141 432h1v1h-1zM496 444h1v1h-1zM360 455h1v1h-1zM250 460h1v1h-1zM122 413h1v1h-1zM281 425h1v1h-1zM203 445h1v1h-1zM192 435h1v1h-1zM619 433h1v1h-1zM147 462h1v1h-1zM292 406h1v1h-1zM636 440h1v1h-1zM343 449h1v1h-1zM436 450h1v1h-1zM115 355h1v1h-1zM550 449h1v1h-1zM137 440h1v1h-1zM548 446h1v1h-1zM569 437h1v1h-1zM480 453h1v1h-1zM222 428h1v1h-1zM612 351h1v1h-1zM251 428h1v1h-1zM161 436h1v1h-1zM424 450h1v1h-1zM587 394h1v1h-1zM211 421h1v1h-1zM647 372h1v1h-1zM171 410h1v1h-1zM132 464h1v1h-1zM577 388h1v1h-1zM620 431h1v1h-1zM552 460h1v1h-1zM412 446h1v1h-1zM359 458h1v1h-1zM179 459h1v1h-1zM252 400h1v1h-1zM457 459h1v1h-1zM630 464h1v1h-1zM251 368h1v1h-1zM597 451h1v1h-1zM460 463h1v1h-1zM518 456h1v1h-1zM171 364h1v1h-1zM134 455h1v1h-1zM232 456h1v1h-1zM577 449h1v1h-1zM189 383h1v1h-1zM166 455h1v1h-1zM564 410h1v1h-1zM192 446h1v1h-1zM257 377h1v1h-1zM198 356h1v1h-1zM563 366h1v1h-1zM204 389h1v1h-1zM284 451h1v1h-1zM175 462h1v1h-1zM145 450h1v1h-1zM309 464h1v1h-1zM647 454h1v1h-1zM167 359h1v1h-1zM559 394h1v1h-1zM214 381h1v1h-1zM601 348h1v1h-1zM211 431h1v1h-1zM261 346h1v1h-1zM564 445h1v1h-1zM601 387h1v1h-1zM580 355h1v1h-1zM214 440h1v1h-1zM117 393h1v1h-1zM179 423h1v1h-1zM551 445h1v1h-1zM286 422h1v1h-1zM147 446h1v1h-1zM624 390h1v1h-1zM631 349h1v1h-1zM248 438h1v1h-1zM124 405h1v1h-1zM579 423h1v1h-1zM264 334h1v1h-1zM431 445h1v1h-1zM193 401h1v1h-1zM556 456h1v1h-1zM563 394h1v1h-1zM326 457h1v1h-1zM243 366h1v1h-1zM347 463h1v1h-1zM544 452h1v1h-1zM550 443h1v1h-1zM143 393h1v1h-1zM626 456h1v1h-1zM248 379h1v1h-1zM632 432h1v1h-1zM615 410h1v1h-1zM547 448h1v1h-1zM404 454h1v1h-1zM622 359h1v1h-1zM278 413h1v1h-1zM179 405h1v1h-1zM625 393h1v1h-1zM258 385h1v1h-1zM271 376h1v1h-1zM268 352h1v1h-1zM161 397h1v1h-1zM563 407h1v1h-1zM222 422h1v1h-1zM280 352h1v1h-1zM233 392h1v1h-1zM121 368h1v1h-1zM575 351h1v1h-1zM267 464h1v1h-1zM272 431h1v1h-1zM580 381h1v1h-1zM148 374h1v1h-1zM173 349h1v1h-1zM627 426h1v1h-1zM197 366h1v1h-1zM444 443h1v1h-1zM603 335h1v1h-1zM380 460h1v1h-1zM533 446h1v1h-1zM535 443h1v1h-1zM213 361h1v1h-1zM192 402h1v1h-1zM606 364h1v1h-1zM565 441h1v1h-1zM626 346h1v1h-1zM342 452h1v1h-1zM606 432h1v1h-1zM402 465h1v1h-1zM302 458h1v1h-1zM167 372h1v1h-1zM421 447h1v1h-1zM630 389h1v1h-1zM646 367h1v1h-1zM206 363h1v1h-1zM637 439h1v1h-1zM592 419h1v1h-1zM553 464h1v1h-1zM589 379h1v1h-1zM198 359h1v1h-1zM303 465h1v1h-1zM278 419h1v1h-1zM117 361h1v1h-1zM564 403h1v1h-1zM257 413h1v1h-1zM398 465h1v1h-1zM205 355h1v1h-1zM168 451h1v1h-1zM144 449h1v1h-1zM426 459h1v1h-1zM612 444h1v1h-1zM283 450h1v1h-1zM436 460h1v1h-1zM379 458h1v1h-1zM244 374h1v1h-1zM280 447h1v1h-1zM633 359h1v1h-1zM180 439h1v1h-1zM217 358h1v1h-1zM198 421h1v1h-1zM164 356h1v1h-1zM560 335h1v1h-1zM316 459h1v1h-1zM226 458h1v1h-1zM595 404h1v1h-1zM580 334h1v1h-1zM259 431h1v1h-1zM209 443h1v1h-1zM286 415h1v1h-1zM173 400h1v1h-1zM273 325h1v1h-1zM281 349h1v1h-1zM182 423h1v1h-1zM265 376h1v1h-1zM600 432h1v1h-1zM586 445h1v1h-1zM185 357h1v1h-1zM130 417h1v1h-1zM567 368h1v1h-1zM176 452h1v1h-1zM276 373h1v1h-1zM135 362h1v1h-1zM563 401h1v1h-1zM560 432h1v1h-1zM267 322h1v1h-1zM571 407h1v1h-1zM140 352h1v1h-1zM174 434h1v1h-1zM227 453h1v1h-1zM265 329h1v1h-1zM620 379h1v1h-1zM611 419h1v1h-1zM143 420h1v1h-1zM610 335h1v1h-1zM254 397h1v1h-1zM632 411h1v1h-1zM146 369h1v1h-1zM280 336h1v1h-1zM242 352h1v1h-1zM614 368h1v1h-1zM274 448h1v1h-1zM190 400h1v1h-1zM293 438h1v1h-1zM205 415h1v1h-1zM176 359h1v1h-1zM147 358h1v1h-1zM220 421h1v1h-1zM288 386h1v1h-1zM644 428h1v1h-1zM159 423h1v1h-1zM638 400h1v1h-1zM173 389h1v1h-1zM606 412h1v1h-1zM450 456h1v1h-1zM129 432h1v1h-1zM563 360h1v1h-1zM214 411h1v1h-1zM566 455h1v1h-1zM204 433h1v1h-1zM558 427h1v1h-1zM289 343h1v1h-1zM312 440h1v1h-1zM598 457h1v1h-1zM199 360h1v1h-1zM351 461h1v1h-1zM563 444h1v1h-1zM266 415h1v1h-1zM295 381h1v1h-1zM597 340h1v1h-1zM272 382h1v1h-1zM287 385h1v1h-1zM633 452h1v1h-1zM577 462h1v1h-1zM628 408h1v1h-1zM273 401h1v1h-1zM623 388h1v1h-1zM298 448h1v1h-1zM160 415h1v1h-1zM590 398h1v1h-1zM174 445h1v1h-1z" fill="#b4b4b4"/>
<path d="M155.0 353.2h4v-4zM200.8 353.2h4v-4zM246.6 353.2h4v-4zM271.4 337.2h4v-4zM292.4 353.2h4v-4zM317.2 337.2h4v-4zM338.2 353.2h4v-4zM567.2 353.2h4v-4zM592.0 337.2h4v-4zM613.0 353.2h4v-4zM637.8 337.2h4v-4zM134.0 383.0h4v-4zM155.0 399.0h4v-4zM179.8 383.0h4v-4zM200.8 399.0h4v-4zM225.6 383.0h4v-4zM246.6 399.0h4v-4zM271.4 383.0h4v-4zM292.4 399.0h4v-4zM317.2 383.0h4v-4zM338.2 399.0h4v-4zM567.2 399.0h4v-4zM592.0 383.0h4v-4zM613.0 399.0h4v-4zM637.8 383.0h4v-4zM134.0 428.8h4v-4zM155.0 444.8h4v-4zM179.8 428.8h4v-4zM200.8 444.8h4v-4zM225.6 428.8h4v-4zM246.6 444.8h4v-4zM271.4 428.8h4v-4zM292.4 444.8h4v-4zM317.2 428.8h4v-4zM338.2 444.8h4v-4zM384.0 444.8h4v-4zM429.8 444.8h4v-4zM475.6 444.8h4v-4zM521.4 444.8h4v-4zM567.2 444.8h4v-4zM592.0 428.8h4v-4zM613.0 444.8h4v-4zM637.8 428.8h4v-4z" fill="#858585"/>
<g clip-path="url(#ca)"><path d="M60.0 440L290.0 210M64.0 440L294.0 210M68.0 440L298.0 210M72.0 440L302.0 210M76.0 440L306.0 210M80.0 440L310.0 210M84.0 440L314.0 210M88.0 440L318.0 210M92.0 440L322.0 210M96.0 440L326.0 210M100.0 440L330.0 210M104.0 440L334.0 210M108.0 440L338.0 210M112.0 440L342.0 210M116.0 440L346.0 210M120.0 440L350.0 210M124.0 440L354.0 210M128.0 440L358.0 210M132.0 440L362.0 210M136.0 440L366.0 210M140.0 440L370.0 210M144.0 440L374.0 210M148.0 440L378.0 210M152.0 440L382.0 210M156.0 440L386.0 210M160.0 440L390.0 210M164.0 440L394.0 210M168.0 440L398.0 210M172.0 440L402.0 210M176.0 440L406.0 210M180.0 440L410.0 210M184.0 440L414.0 210M188.0 440L418.0 210M192.0 440L422.0 210M196.0 440L426.0 210M200.0 440L430.0 210M204.0 440L434.0 210M208.0 440L438.0 210M212.0 440L442.0 210M216.0 440L446.0 210M220.0 440L450.0 210M224.0 440L454.0 210M228.0 440L458.0 210M232.0 440L462.0 210M236.0 440L466.0 210M240.0 440L470.0 210M244.0 440L474.0 210M248.0 440L478.0 210M252.0 440L482.0 210M256.0 440L486.0 210M260.0 440L490.0 210M264.0 440L494.0 210M268.0 440L498.0 210M272.0 440L502.0 210M276.0 440L506.0 210M280.0 440L510.0 210M284.0 440L514.0 210M288.0 440L518.0 210M292.0 440L522.0 210M296.0 440L526.0 210M300.0 440L530.0 210M304.0 440L534.0 210M308.0 440L538.0 210M312.0 440L542.0 210M316.0 440L546.0 210M320.0 440L550.0 210M324.0 440L554.0 210M328.0 440L558.0 210M332.0 440L562.0 210M336.0 440L566.0 210M340.0 440L570.0 210M344.0 440L574.0 210M348.0 440L578.0 210M352.0 440L582.0 210M356.0 440L586.0 210M360.0 440L590.0 210M364.0 440L594.0 210M368.0 440L598.0 210M372.0 440L602.0 210M376.0 440L606.0 210M380.0 440L610.0 210M384.0 440L614.0 210M388.0 440L618.0 210M392.0 440L622.0 210M396.0 440L626.0 210M400.0 440L630.0 210M404.0 440L634.0 210M408.0 440L638.0 210M412.0 440L642.0 210M416.0 440L646.0 210M420.0 440L650.0 210M424.0 440L654.0 210M428.0 440L658.0 210M432.0 440L662.0 210M436.0 440L666.0 210M440.0 440L670.0 210M444.0 440L674.0 210M448.0 440L678.0 210M452.0 440L682.0 210M456.0 440L686.0 210M460.0 440L690.0 210M464.0 440L694.0 210M468.0 440L698.0 210M472.0 440L702.0 210M476.0 440L706.0 210M480.0 440L710.0 210M484.0 440L714.0 210M488.0 440L718.0 210M492.0 440L722.0 210M496.0 440L726.0 210M500.0 440L730.0 210M504.0 440L734.0 210M508.0 440L738.0 210M512.0 440L742.0 210M516.0 440L746.0 210M520.0 440L750.0 210M524.0 440L754.0 210M528.0 440L758.0 210M532.0 440L762.0 210M536.0 440L766.0 210" stroke="#858585" stroke-width="1.15" fill="none"/></g>
<g transform="rotate(-0.33 380 325)">
<path d="M115.9 184.9H649.7M115.9 184.9V464.9M115.9 464.9H523" stroke="#333" stroke-width="1" fill="none"/>
<path d="M113.0 182.1H180.0M187.5 182.1H197.5M205.5 182.1H215.5M223.0 182.1H359.0M366.5 182.1H376.5M384.5 182.1H394.5M402.0 182.1H538.0M545.5 182.1H555.5M563.5 182.1H573.5M581.0 182.1H649.7" stroke="#111" stroke-width="2.2" fill="none"/>
<path d="M113.3 467.8H181.0M188.5 467.8H198.5M206.5 467.8H216.5M225.0 467.8H360.0M367.5 467.8H377.5M385.5 467.8H395.5M403.5 467.8H538.0M545.5 467.8H555.5M563.5 467.8H573.5M583.5 467.8H649.7" stroke="#111" stroke-width="2.2" fill="none"/>
<path d="M113.3 182.1V370.0M113.3 381.0V391.0M113.3 399.0V408.0M113.3 414.0V467.8" stroke="#111" stroke-width="2.2" fill="none"/>
<path d="M649.7 182.1V467.8" stroke="#111" stroke-width="2.2" fill="none"/>
<path d="M159.2 183.9h2v2h-2zM203.7 183.9h2v2h-2zM248.2 183.9h2v2h-2zM292.6 183.9h2v2h-2zM337.1 183.9h2v2h-2zM381.5 183.9h2v2h-2zM426.0 183.9h2v2h-2zM470.4 183.9h2v2h-2zM514.9 183.9h2v2h-2zM559.3 183.9h2v2h-2zM603.8 183.9h2v2h-2zM161.5 463.9h2v2h-2zM206.5 463.9h2v2h-2zM251.5 463.9h2v2h-2zM296.5 463.9h2v2h-2zM341.5 463.9h2v2h-2zM386.5 463.9h2v2h-2zM431.5 463.9h2v2h-2zM476.5 463.9h2v2h-2zM521.5 463.9h2v2h-2z" fill="#111"/>
<path d="M195.5 204.75H567.1V445.2H195.5Z" stroke="#333" stroke-width="1.4" fill="none" stroke-dasharray="4.7 2.75" stroke-dashoffset="2.2"/>
</g>
<path d="M130 180.4H117Q110.6 180.4 110.6 187V200.6M630.3 178.2H645Q651.3 178.2 651.3 185V202M111.2 442.7V464Q111.2 471.2 118 471.2H134.5M630 469H645.5Q652.2 469 652.2 462V445.7" stroke="#222" stroke-width="1.3" fill="none"/>
<path d="M115 348.2H259M558 328.5H649" stroke="#333" stroke-width="1.1" fill="none"/>
<path d="M259 348V316.75H300M348 316.75H349M259 348V464H523.5V442" stroke="#222" stroke-width="1.1" fill="none"/>
<path d="M300 213.2H348.3V437H300Z M300 316.75H348.3" stroke="#111" stroke-width="2" fill="none"/>
<path d="M348.3 213.2H557.8V442H348.3V437" stroke="#111" stroke-width="2" fill="none"/>
<path d="M674 180V465.5M677 180V465.5" stroke="#222" stroke-width="1" fill="none"/>
<path d="M384.5 75.5V207.5M259 445V571M61 363.3H113M61 382.6H113M61 411.3H113M116 363.3H196.5M567.5 344.4H650M675 377H740M649.5 390.4H740M147 121.2H163.7M147 121.2V182M563 122.4H601M563 122.4V182M137.5 466V517H124.7M312.5 418.8V522.3H408.6M503 465.9L542.5 506.3H565.3" stroke="#222" stroke-width="1" fill="none"/>
<path d="M381.5 179.0L387.5 185.0M381.5 202.0L387.5 208.0M256.0 442.0L262.0 448.0M256.0 464.5L262.0 470.5M110.5 366.3L116.5 360.3M110.5 385.6L116.5 379.6M111.0 414.3L117.0 408.3M193.0 366.3L199.0 360.3M564.5 347.4L570.5 341.4M646.5 347.4L652.5 341.4M673.0 380.6L679.0 374.6M673.0 393.0L679.0 387.0M647.0 393.0L653.0 387.0M675.0 393.0L681.0 387.0" stroke="#111" stroke-width="1.6" fill="none"/>
<path d="M152.5 221.4L162.5 219.4M151.3 221.3L158.0 226.4M150.6 220.4L152.3 229.5M150.8 219.2L144.0 227.3M151.5 218.6L142.6 220.2M152.8 218.7L145.4 212.0M153.5 219.7L153.2 208.9M153.3 220.8L159.5 213.4" stroke="#111" stroke-width="2.3" fill="none" stroke-linecap="round"/>
<path d="M162.5 219.4L168.8 214.0M162.5 219.4L171.0 218.1M162.5 219.4L171.7 224.4M158.0 226.4L170.5 228.5M158.0 226.4L164.3 233.0M158.0 226.4L162.1 236.8M152.3 229.5L158.1 239.7M152.3 229.5L152.4 239.0M152.3 229.5L148.6 238.0M144.0 227.3L140.6 235.7M144.0 227.3L137.0 231.4M144.0 227.3L134.7 227.4M142.6 220.2L133.1 225.6M142.6 220.2L132.2 223.0M142.6 220.2L133.2 217.6M145.4 212.0L136.8 210.5M145.4 212.0L138.1 207.5M145.4 212.0L143.4 204.4M153.2 208.9L149.2 203.2M153.2 208.9L153.5 201.9M153.2 208.9L158.4 200.6M159.5 213.4L161.6 202.5M159.5 213.4L165.8 205.6M159.5 213.4L168.4 211.6" stroke="#111" stroke-width="1.5" fill="none" stroke-linecap="round"/>
<path d="M168.8 214.0L176.4 208.5M168.8 214.0L176.8 211.8M168.8 214.0L176.0 213.9M171.0 218.1L178.0 212.9M171.0 218.1L177.3 217.4M171.0 218.1L179.5 219.3M171.7 224.4L176.7 222.7M171.7 224.4L177.4 225.9M171.7 224.4L178.1 228.2M170.5 228.5L177.1 227.9M170.5 228.5L175.6 231.1M170.5 228.5L173.5 232.4M164.3 233.0L171.1 236.7M164.3 233.0L169.3 241.0M164.3 233.0L167.4 242.0M162.1 236.8L168.8 239.9M162.1 236.8L163.8 242.4M162.1 236.8L162.0 245.3M158.1 239.7L162.5 242.5M158.1 239.7L160.4 245.4M158.1 239.7L155.4 245.9M152.4 239.0L155.0 245.2M152.4 239.0L151.7 246.3M152.4 239.0L149.2 245.1M148.6 238.0L149.2 245.6M148.6 238.0L146.4 245.0M148.6 238.0L145.4 244.0M140.6 235.7L137.8 243.4M140.6 235.7L135.5 242.0M140.6 235.7L133.1 238.4M137.0 231.4L134.0 237.9M137.0 231.4L131.0 234.0M137.0 231.4L129.3 234.5M134.7 227.4L130.1 231.8M134.7 227.4L128.5 230.0M134.7 227.4L127.8 227.2M133.1 225.6L128.7 230.2M133.1 225.6L126.4 225.7M133.1 225.6L127.4 223.5M132.2 223.0L125.6 226.5M132.2 223.0L126.2 223.0M132.2 223.0L124.9 220.5M133.2 217.6L125.1 220.5M133.2 217.6L125.5 217.3M133.2 217.6L128.3 212.8M136.8 210.5L127.1 208.6M136.8 210.5L131.6 205.3M136.8 210.5L132.0 205.0M138.1 207.5L129.2 205.3M138.1 207.5L134.0 202.5M138.1 207.5L135.2 200.6M143.4 204.4L136.6 200.0M143.4 204.4L139.4 196.4M143.4 204.4L142.9 196.9M149.2 203.2L144.9 196.1M149.2 203.2L149.1 194.9M149.2 203.2L151.5 194.6M153.5 201.9L149.8 194.3M153.5 201.9L154.4 192.9M153.5 201.9L156.8 194.3M158.4 200.6L156.2 193.9M158.4 200.6L161.1 194.8M158.4 200.6L164.0 197.4M161.6 202.5L162.7 196.6M161.6 202.5L165.4 196.0M161.6 202.5L165.8 199.2M165.8 205.6L168.1 199.6M165.8 205.6L169.8 202.7M165.8 205.6L172.4 203.9M168.4 211.6L172.9 205.6M168.4 211.6L174.8 207.7M168.4 211.6L176.8 210.2" stroke="#111" stroke-width="1.0" fill="none" stroke-linecap="round"/>
<path d="M144.1 292.2A16.8 16.8 0 0 1 156.8 290.5L155.8 299.0L159.6 291.5M159.6 291.5A16.8 16.8 0 0 1 169.1 309.3L160.5 309.2L168.4 312.2M168.4 312.2A16.8 16.8 0 0 1 159.1 322.2L154.7 314.8L156.3 323.1M156.3 323.1A16.8 16.8 0 0 1 142.4 320.1L146.6 312.6L140.2 318.2M140.2 318.2A16.8 16.8 0 0 1 135.7 307.3L144.1 305.8L135.9 304.4M135.9 304.4A16.8 16.8 0 0 1 141.7 293.8L148.0 299.6L144.1 292.2" stroke="#111" stroke-width="1.4" fill="none" stroke-linejoin="round"/>
<text x="169.0" y="124.05" font-size="8.92" font-weight="normal" textLength="82.0" lengthAdjust="spacingAndGlyphs">(E) 6'-0&quot; WOOD FENCE</text>
<text x="602.5" y="125.60" font-size="8.78" font-weight="normal" textLength="100.3" lengthAdjust="spacingAndGlyphs">(E) 3'-0&quot; HIGH WOOD FENCE</text>
<text x="319.2" y="176.85" font-size="8.92" font-weight="normal" textLength="23.6" lengthAdjust="spacingAndGlyphs">52.00'</text>
<text x="401.7" y="177.20" font-size="8.50" font-weight="normal" textLength="56.8" lengthAdjust="spacingAndGlyphs">N 84° 40' 55&quot; E</text>
<text x="194.0" y="278.70" font-size="7.96" font-weight="normal" textLength="59.6" lengthAdjust="spacingAndGlyphs">(E) FRONT YARD</text>
<text x="306.4" y="267.50" font-size="7.68" font-weight="normal" textLength="39.6" lengthAdjust="spacingAndGlyphs">PROPOSED</text>
<text x="307.0" y="276.10" font-size="7.68" font-weight="normal" textLength="33.4" lengthAdjust="spacingAndGlyphs">ADDITION</text>
<text x="307.0" y="286.50" font-size="8.23" font-weight="normal" textLength="38.0" lengthAdjust="spacingAndGlyphs">174 SQ. FT.</text>
<text x="408.5" y="289.70" font-size="7.68" font-weight="normal" textLength="101.6" lengthAdjust="spacingAndGlyphs">EXISTING TWO SORY SINGLE</text>
<text x="408.5" y="298.10" font-size="7.68" font-weight="normal" textLength="70.1" lengthAdjust="spacingAndGlyphs">FAMILY RESIDENCE</text>
<text x="408.5" y="306.80" font-size="7.68" font-weight="normal" textLength="72.5" lengthAdjust="spacingAndGlyphs">2,038 SQUARE FEET</text>
<text x="408.5" y="315.40" font-size="7.68" font-weight="normal" textLength="48.5" lengthAdjust="spacingAndGlyphs">6 BEDROOMS</text>
<text x="408.5" y="324.00" font-size="7.68" font-weight="normal" textLength="61.1" lengthAdjust="spacingAndGlyphs">2 1/2 BATHROOM</text>
<text x="408.5" y="336.90" font-size="7.68" font-weight="normal" textLength="70.1" lengthAdjust="spacingAndGlyphs">1731 TREMAINE WAY</text>
<text x="577.0" y="262.70" font-size="7.96" font-weight="normal" textLength="60.0" lengthAdjust="spacingAndGlyphs">(E) FRONT YARD</text>
<text x="61.0" y="358.10" font-size="7.13" font-weight="normal" textLength="19.0" lengthAdjust="spacingAndGlyphs">6'-1&quot;</text>
<text x="142.0" y="358.60" font-size="7.68" font-weight="normal" textLength="19.0" lengthAdjust="spacingAndGlyphs">15'-0&quot;</text>
<text x="116.0" y="373.50" font-size="7.68" font-weight="normal" textLength="84.0" lengthAdjust="spacingAndGlyphs">FRONT YARD SETBACK</text>
<text x="203.5" y="409.50" font-size="8.50" font-weight="normal" textLength="48.0" lengthAdjust="spacingAndGlyphs">BACKYARAD</text>
<text x="594.4" y="340.60" font-size="7.68" font-weight="normal" textLength="20.6" lengthAdjust="spacingAndGlyphs">15'-0&quot;</text>
<text x="567.0" y="354.90" font-size="8.23" font-weight="normal" textLength="87.4" lengthAdjust="spacingAndGlyphs">FRONT YARD SETBACK</text>
<text x="712.7" y="373.20" font-size="7.41" font-weight="normal" textLength="24.9" lengthAdjust="spacingAndGlyphs">17'-6&quot;</text>
<text x="651.5" y="385.20" font-size="7.13" font-weight="normal" textLength="22.3" lengthAdjust="spacingAndGlyphs">4'-6&quot;</text>
<text x="682.3" y="389.70" font-size="7.41" font-weight="normal" textLength="9.6" lengthAdjust="spacingAndGlyphs">6&quot;</text>
<text x="583.0" y="397.20" font-size="7.96" font-weight="normal" textLength="49.8" lengthAdjust="spacingAndGlyphs">(E) CONCRETE</text>
<text x="583.0" y="405.10" font-size="7.96" font-weight="normal" textLength="32.4" lengthAdjust="spacingAndGlyphs">DRIVE IN</text>
<text x="319.0" y="483.60" font-size="8.23" font-weight="normal" textLength="23.0" lengthAdjust="spacingAndGlyphs">52.00'</text>
<text x="401.6" y="483.60" font-size="8.23" font-weight="normal" textLength="57.4" lengthAdjust="spacingAndGlyphs">N 84° 40' 55&quot; E</text>
<text x="61.1" y="517.60" font-size="7.68" font-weight="normal" textLength="62.8" lengthAdjust="spacingAndGlyphs">IGH WOOD FENCE</text>
<text x="408.9" y="525.85" font-size="8.09" font-weight="normal" textLength="94.5" lengthAdjust="spacingAndGlyphs">PROPOSED PATIO COVER</text>
<text x="566.3" y="510.20" font-size="7.96" font-weight="normal" textLength="49.8" lengthAdjust="spacingAndGlyphs">(E) 6'-0&quot; HIGH</text>
<text x="566.3" y="518.45" font-size="7.54" font-weight="normal" textLength="47.7" lengthAdjust="spacingAndGlyphs">WOOD FENCE</text>
<text transform="translate(378.30 174.5) rotate(-90)" x="0" y="2.80" font-size="7.68" font-weight="normal" textLength="96.6" lengthAdjust="spacingAndGlyphs">4'-2&quot; INTERIOR SIDE YARD</text>
<text transform="translate(254.40 567.0) rotate(-90)" x="0" y="2.85" font-size="7.82" font-weight="normal" textLength="96.4" lengthAdjust="spacingAndGlyphs">4'-2&quot; INTERIOR SIDE YARD</text>
<text transform="translate(655.30 289.0) rotate(-90)" x="0" y="2.80" font-size="7.68" font-weight="normal" textLength="52.1" lengthAdjust="spacingAndGlyphs">N 0° 18' 45&quot; W</text>
<text transform="translate(109.20 286.3) rotate(-90)" x="0" y="3.00" font-size="8.23" font-weight="normal" textLength="52.6" lengthAdjust="spacingAndGlyphs">N 0° 18' 45&quot; W</text>
<text transform="translate(667.50 349.6) rotate(-90)" x="0" y="2.95" font-size="8.09" font-weight="normal" textLength="72.6" lengthAdjust="spacingAndGlyphs">EXISTING SIDEWALK</text>
<text transform="translate(107.80 343.6) rotate(-90)" x="0" y="3.10" font-size="8.50" font-weight="normal" textLength="21.6" lengthAdjust="spacingAndGlyphs">97.68'</text>
<text transform="translate(653.70 368.7) rotate(-90)" x="0" y="2.90" font-size="7.96" font-weight="normal" textLength="19.7" lengthAdjust="spacingAndGlyphs">97.68'</text>
</svg></body></html>
